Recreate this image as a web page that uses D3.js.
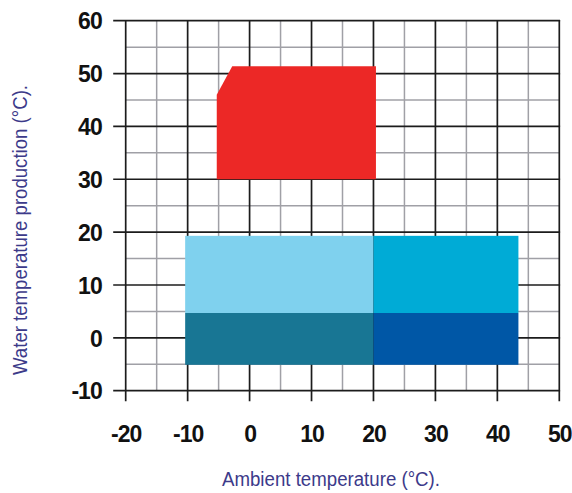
<!DOCTYPE html>
<html>
<head>
<meta charset="utf-8">
<script src="https://cdn.jsdelivr.net/npm/d3@7"></script>
<style>
  html, body { margin: 0; padding: 0; background: #fff; }
  svg { display: block; }
</style>
</head>
<body>
<svg id="chart" width="572" height="493"></svg>
<script>
// ---- data ----
const xTicks = [-20, -10, 0, 10, 20, 30, 40, 50];
const yTicks = [-10, 0, 10, 20, 30, 40, 50, 60];
const xLabel = "Ambient temperature (°C).";
const yLabel = "Water temperature production (°C).";

// red heating envelope polygon (ambient, water)
const redX = [-5.3, -5.3, -2.8, 20.4, 20.4];
const redY = [30, 46, 51.4, 51.4, 30];

// blue cooling blocks
const blockX0 = [-10.4, 20, -10.4, 20];
const blockX1 = [20, 43.4, 20, 43.4];
const blockY0 = [4.7, 4.7, -5.1, -5.1];
const blockY1 = [19.3, 19.3, 4.7, 4.7];
const blockColors = ["#7fd1ee", "#00abd6", "#187694", "#0057a6"];

// ---- layout ----
const svg = d3.select("#chart");
const x = d3.scaleLinear().domain([-20, 50]).range([125.7, 559.3]);
const y = d3.scaleLinear().domain([-10, 60]).range([390.7, 20.7]);

const minorX = d3.range(-15, 50, 10);
const minorY = d3.range(-5, 60, 10);

const grid = svg.append("g");
// minor grid (gray)
grid.selectAll(".mx").data(minorX).join("line")
  .attr("x1", d => x(d)).attr("x2", d => x(d))
  .attr("y1", y(60)).attr("y2", y(-10))
  .attr("stroke", "#a0a0a6").attr("stroke-width", 1.5);
grid.selectAll(".my").data(minorY).join("line")
  .attr("y1", d => y(d)).attr("y2", d => y(d))
  .attr("x1", x(-20)).attr("x2", x(50))
  .attr("stroke", "#a0a0a6").attr("stroke-width", 1.5);
// major grid (black), extending outside as ticks
grid.selectAll(".Mx").data(xTicks).join("line")
  .attr("x1", d => x(d)).attr("x2", d => x(d))
  .attr("y1", y(60) - 0.8).attr("y2", y(-10) + 10.5)
  .attr("stroke", "#1c1c1c").attr("stroke-width", 1.7);
grid.selectAll(".My").data(yTicks).join("line")
  .attr("y1", d => y(d)).attr("y2", d => y(d))
  .attr("x1", x(-20) - 12.5).attr("x2", x(50) + 0.8)
  .attr("stroke", "#1c1c1c").attr("stroke-width", 1.7);

// blue blocks
svg.append("g").selectAll("rect").data(blockColors).join("rect")
  .attr("x", (d, i) => x(blockX0[i]))
  .attr("width", (d, i) => x(blockX1[i]) - x(blockX0[i]))
  .attr("y", (d, i) => y(blockY1[i]))
  .attr("height", (d, i) => y(blockY0[i]) - y(blockY1[i]))
  .attr("fill", d => d);

// red polygon
const redPts = redX.map((v, i) => [x(v), y(redY[i])]);
svg.append("path")
  .attr("d", d3.line()(redPts) + "Z")
  .attr("fill", "#ec2826");

// axes (labels only)
const tickFont = "'Liberation Sans', Arial, Helvetica, sans-serif";
const fmt = d => String(d);
const gx = svg.append("g").attr("transform", `translate(0,${y(-10)})`)
  .call(d3.axisBottom(x).tickValues(xTicks).tickSize(0).tickFormat(fmt));
gx.select(".domain").remove();
gx.selectAll("text")
  .attr("y", 51).attr("dy", null)
  .attr("font-family", tickFont).attr("font-size", 23).attr("font-weight", "bold")
  .attr("letter-spacing", "-1px").attr("fill", "#111");

const gy = svg.append("g").attr("transform", `translate(${x(-20)},0)`)
  .call(d3.axisLeft(y).tickValues(yTicks).tickSize(0).tickFormat(fmt));
gy.select(".domain").remove();
gy.selectAll("text")
  .attr("x", -24).attr("dy", "0.36em")
  .attr("font-family", tickFont).attr("font-size", 23).attr("font-weight", "bold")
  .attr("letter-spacing", "-1px").attr("fill", "#111");

// axis titles
svg.append("text")
  .attr("x", 331).attr("y", 486)
  .attr("text-anchor", "middle")
  .attr("font-family", tickFont).attr("font-size", 20)
  .attr("fill", "#3c3a8a")
  .attr("textLength", 218).attr("lengthAdjust", "spacingAndGlyphs")
  .text(xLabel);

svg.append("text")
  .attr("transform", "translate(27,230) rotate(-90)")
  .attr("text-anchor", "middle")
  .attr("font-family", tickFont).attr("font-size", 20)
  .attr("fill", "#3c3a8a")
  .attr("textLength", 290).attr("lengthAdjust", "spacingAndGlyphs")
  .text(yLabel);
</script>
</body>
</html>
